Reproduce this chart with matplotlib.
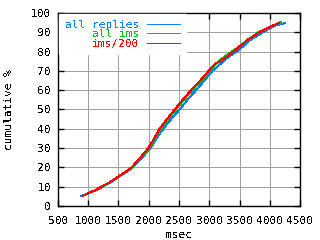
import matplotlib
matplotlib.use('Agg')
import matplotlib.pyplot as plt

# cumulative response time curves (msec, percent)
replies_ms = [880, 1000, 1100, 1240, 1370, 1500, 1630, 1740, 1890, 2030, 2130, 2240, 2370, 2510, 2640, 2780, 2920, 3050, 3200, 3330, 3450, 3500, 3650, 3890, 4000, 4100, 4250]
replies_pct = [5.0, 6.4, 7.8, 10.0, 12.2, 15.0, 17.5, 20.0, 25.0, 30.0, 35.0, 40.0, 45.0, 50.0, 55.0, 60.0, 65.0, 70.0, 74.0, 77.5, 80.0, 81.0, 85.5, 90.0, 92.2, 93.5, 94.7]

ims_ms = [900, 1000, 1100, 1230, 1360, 1500, 1620, 1730, 1870, 2005, 2105, 2200, 2320, 2450, 2580, 2720, 2870, 3010, 3110, 3190, 3300, 3420, 3500, 3650, 3810, 4000, 4180]
ims_pct = [5.1, 6.5, 7.9, 10.0, 12.2, 15.0, 17.5, 20.0, 25.0, 30.0, 35.0, 40.0, 45.0, 50.0, 55.0, 60.0, 65.0, 70.0, 73.5, 76.0, 78.5, 81.0, 82.8, 86.5, 90.0, 92.7, 95.3]

ims200_ms = [908, 1000, 1100, 1222, 1350, 1500, 1610, 1718, 1860, 1992, 2090, 2180, 2300, 2430, 2560, 2700, 2850, 2990, 3090, 3180, 3300, 3400, 3500, 3650, 3830, 4000, 4150]
ims200_pct = [5.2, 6.6, 8.0, 10.0, 12.2, 15.2, 17.5, 20.0, 25.0, 30.0, 35.0, 40.0, 45.0, 50.0, 55.0, 60.0, 65.0, 70.0, 73.5, 75.0, 77.5, 80.0, 82.5, 86.5, 90.0, 92.8, 94.8]

x_ticks = [500, 1000, 1500, 2000, 2500, 3000, 3500, 4000, 4500]
y_ticks = [0, 10, 20, 30, 40, 50, 60, 70, 80, 90, 100]

plt.rcParams['font.family'] = 'DejaVu Sans Mono'
plt.rcParams['font.size'] = 8
plt.rcParams['text.antialiased'] = False

fig = plt.figure(figsize=(3.2, 2.4), dpi=100)
ax = fig.add_axes([0.181, 0.142, 0.757, 0.804])

ax.plot(replies_ms, replies_pct, color='#0080ff', lw=0.7, antialiased=False, label='all replies')
ax.plot(ims_ms, ims_pct, color='#00c000', lw=0.7, antialiased=False, label='all ims')
ax.plot(ims200_ms, ims200_pct, color='#ff0000', lw=0.7, antialiased=False, label='ims/200')

ax.set_xlim(500, 4500)
ax.set_ylim(0, 100)
ax.set_xticks(x_ticks)
ax.set_yticks(y_ticks)
ax.grid(True, color='#a0a0a0', lw=0.7, antialiased=False)
ax.set_axisbelow(True)
ax.tick_params(direction='in', length=4.5, width=1, top=True, right=True)
ax.tick_params(axis='x', pad=7)
ax.tick_params(axis='y', pad=5)
for s in ax.spines.values():
    s.set_linewidth(1.0)

ax.set_xlabel('msec', labelpad=3)
ax.set_ylabel('cumulative %', labelpad=12)

leg = ax.legend(loc='upper left', bbox_to_anchor=(0.0, 1.0), markerfirst=False,
                frameon=True, fancybox=False, framealpha=1, facecolor='white',
                edgecolor='white', handlelength=3.0, handletextpad=0.7,
                labelspacing=-0.04, borderaxespad=0.1, borderpad=0.5)
for txt, line in zip(leg.get_texts(), leg.get_lines()):
    txt.set_color(line.get_color())

fig.savefig('out.png', dpi=100)
